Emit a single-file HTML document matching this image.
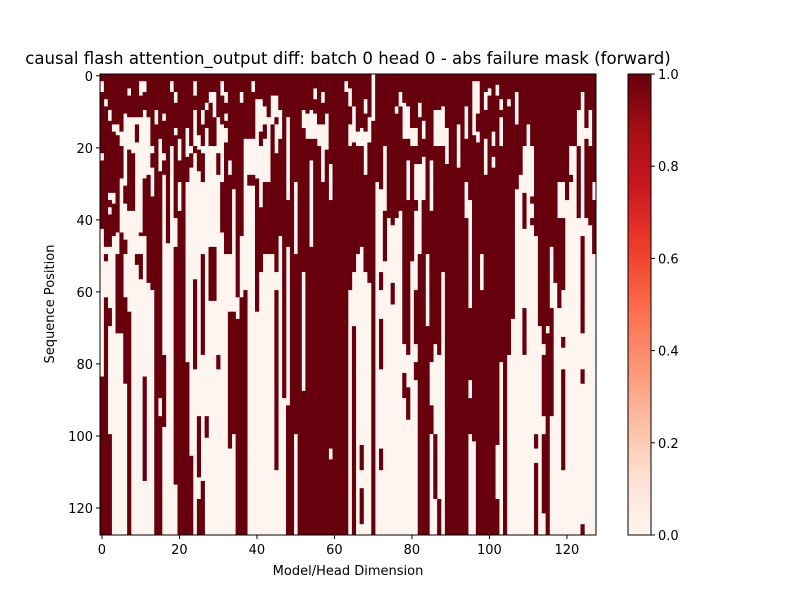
<!DOCTYPE html>
<html><head><meta charset="utf-8"><style>
body{margin:0;background:#fff;}
svg{display:block;font-family:"DejaVu Sans","Liberation Sans",sans-serif;}
</style></head><body>
<svg id="chart" width="800" height="600" viewBox="0 0 800 600">
<defs><linearGradient id="reds" x1="0" y1="1" x2="0" y2="0">
<stop offset="0" stop-color="#fff5f0"/><stop offset="0.125" stop-color="#fee0d2"/><stop offset="0.25" stop-color="#fcbba1"/><stop offset="0.375" stop-color="#fc9272"/><stop offset="0.5" stop-color="#fb6a4a"/><stop offset="0.625" stop-color="#ef3b2c"/><stop offset="0.75" stop-color="#cb181d"/><stop offset="0.875" stop-color="#a50f15"/><stop offset="1" stop-color="#67000d"/>
</linearGradient></defs>
<text x="348" y="64" text-anchor="middle" font-size="16.6">causal flash attention_output diff: batch 0 head 0 - abs failure mask (forward)</text>
<rect x="100" y="74" width="496" height="461" fill="#fff5f0"/>
<g id="cells"></g>
<rect x="100" y="74" width="496" height="461" fill="none" stroke="#000" stroke-width="1"/>
<g id="axes" font-size="13"></g>
<text x="348" y="575" text-anchor="middle" font-size="13">Model/Head Dimension</text>
<text transform="translate(54,304) rotate(-90)" text-anchor="middle" font-size="13">Sequence Position</text>
<rect x="628" y="74" width="23" height="461" fill="url(#reds)" stroke="#000" stroke-width="1"/>
<g id="cbar" font-size="13"></g>
</svg>
<script>
const nRows = 128;
const nCols = 128;
const xTicks = [0,20,40,60,80,100,120];
const yTicks = [0,20,40,60,80,100,120];
const cbTicks = [0.0,0.2,0.4,0.6,0.8,1.0];
// dark (failure=1) row runs per column, "start-end" in row units
const colRuns = [
"0-2,5-22,24-43,84-128","0-7,9-48,50-52,62-128","0-10,13-33,35-37,39-48,65-70,100-128","0-14,16-33,36-45","0-14,17-44,50-72","0-16,20-29,44-72","0-11,31-36,46-50,62-86","0-4,6-12,21-38,66-128",
"0-12,22-38","0-12,14-19,50-53","0-2,6-12,44-45,50-57","0-2,5-10,29-45,84-113","0-12,28-58","0-20,22-26,34-60","0-10,14-128","0-18,27-90,95-128",
"0-11,13-22,24-28,78-98","0-47","0-2,5-20","0-5,8-15,17-40,48-114","0-18,24-30,38-128","0-128","0-15,23-30,80-128","0-20,22-26,106-128",
"0-2,6-10,20-22,57-82","0-17,21-27,95-112,118-128","0-10,14-20,22-30,50-78,113-128","0-8,10-15,95-101","0-5,8-20,48-63","0-5,12-20,48-63","0-12,22-28,78-82","0-2,6-14,30-44",
"0-5,8-11,13-15,19-50","0-24,28-50,66-104","0-32,66-100","0-62,68-128","0-5,8-45,62-128","0-18,60-128","0-18,28-31","0-2,5-18,28-31",
"0-7,29-66","0-7,16-20,37-55","0-9,14-18,30-50","0-12,30-50","0-6,14-50","0-6,12-14,22-55,60-110","0-10,18-45","0-90",
"0-12,35-48,92-128","0-128","0-30,50-100","0-128","0-10,15-55,88-128","0-11,18-128","0-10,18-24,48-128","0-4,7-11,18-128",
"0-14,20-128","0-5,8-14,30-128","0-11,21-128","0-25,35-104,107-128","0-128","0-128","0-128","0-2,5-128",
"0-4,9-14,20-60","0-9,19-55,70-128","0-16,20-50","0-15,20-48,103-110,115-125","0-7,11-16,28-55","0-12,19-58","13-128","0-30",
"0-32,55-60,68-82,104-110","0-20,38-52","0-40","0-42,58-64","0-9,11-40","0-5,9-38","0-8,18-75,83-90","0-9,18-24,35-78,87-96",
"0-15,20-52","0-15,20-25,35-38,60-75,80-85","0-8,12-25,50-128","0-13,18-23,35-128","0-50,70-128","0-24,38-80,92-100","0-10,20-75,100-118","0-10,20-78,118-128",
"0-9,20-55","0-15,25-128","0-128","0-128","0-14,26-128","0-128","0-9,18-30,40-128","0-35,65-85,90-100",
"0-2,17-102","0-2,11-16,19-128","0-50,60-128","0-5,10-18,28-128","0-4,6-128","0-16,20-23,26-128","0-3,6-103,118-128","0-7,10-12,20-80",
"0-128","0-7,9-78","0-68","0-5,14-32","0-28","0-20,33-43,65-78","0-14","0-20,34-36,40-42",
"0-45,100-104,108-128","0-70","0-75,78-95,100-122","0-70,72-128","0-48,65-95","0-58","0-30,40-65","0-30,40-60,73-76,82-110",
"0-35","0-20,28-30","0-20","0-10,20-40","0-5,45-72,82-86,125-128","0-15,18-40","0-10,20-42","0-30,35-50"
];
const NS="http://www.w3.org/2000/svg";
const X0=100,Y0=74,W=496,H=461;
const cw=W/nCols, rh=H/nRows;
const xScale=c=>X0+c*cw;
const yScale=r=>Y0+r*rh;
const cells=document.getElementById('cells');
colRuns.forEach((s,c)=>{
  s.split(',').forEach(seg=>{
    const [a,b]=seg.split('-').map(Number);
    const r=document.createElementNS(NS,'rect');
    r.setAttribute('x',xScale(c));
    r.setAttribute('y',yScale(a));
    r.setAttribute('width',cw+0.3);
    r.setAttribute('height',(b-a)*rh);
    r.setAttribute('fill','#67000d');
    
    
    cells.appendChild(r);
  });
});
const axes=document.getElementById('axes');
function mk(tag,attrs,text){const e=document.createElementNS(NS,tag);for(const k in attrs)e.setAttribute(k,attrs[k]);if(text!==undefined)e.textContent=text;return e;}
xTicks.forEach(t=>{
  const x=xScale(t+0.5);
  const l=mk('line',{x1:x,x2:x,y1:Y0+H,y2:Y0+H+4,stroke:'#000'});
  
  
  axes.appendChild(l);
  const tx=mk('text',{x:x,y:Y0+H+19,'text-anchor':'middle'},String(t));
  
  
  axes.appendChild(tx);
});
yTicks.forEach(t=>{
  const y=yScale(t+0.5);
  const l=mk('line',{x1:X0-4,x2:X0,y1:y,y2:y,stroke:'#000'});
  
  
  axes.appendChild(l);
  const tx=mk('text',{x:X0-7,y:y+5,'text-anchor':'end'},String(t));
  
  
  axes.appendChild(tx);
});
const cb=document.getElementById('cbar');
cbTicks.forEach(v=>{
  const y=535-v*461;
  const l=mk('line',{x1:651,x2:655,y1:y,y2:y,stroke:'#000'});
  
  
  cb.appendChild(l);
  const tx=mk('text',{x:658,y:y+5},v.toFixed(1));
  
  
  cb.appendChild(tx);
});
</script>
</body></html>
